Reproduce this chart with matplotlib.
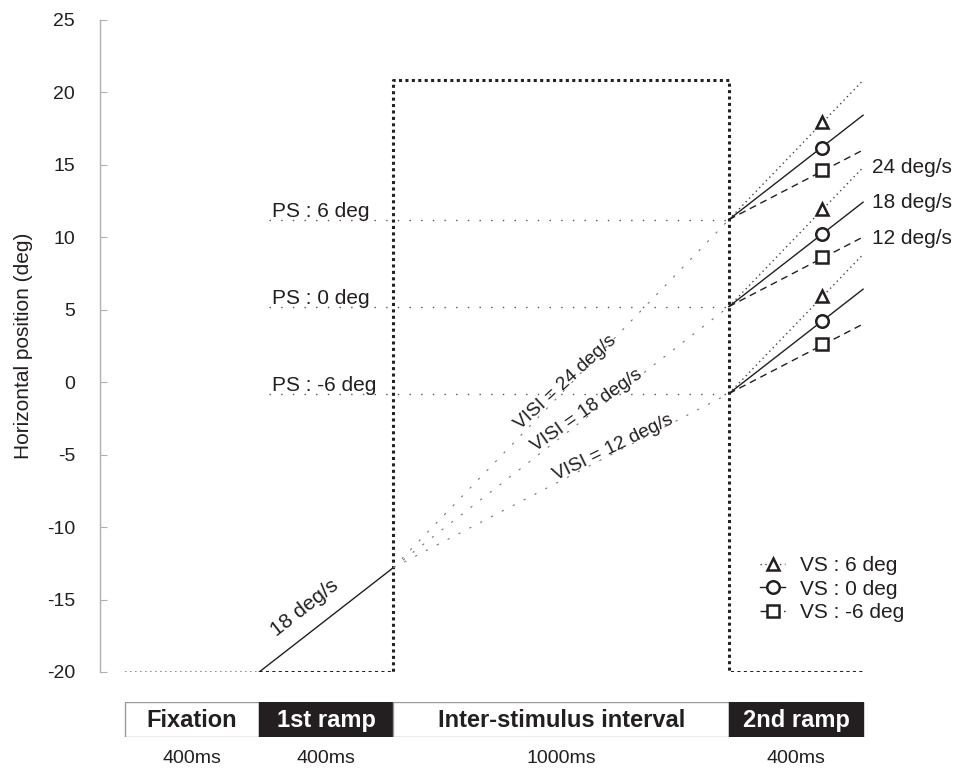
import matplotlib
matplotlib.use("Agg")
import matplotlib.pyplot as plt
from matplotlib.patches import Rectangle
from matplotlib.lines import Line2D

plt.rcParams['font.family'] = ['Liberation Sans', 'DejaVu Sans']
plt.rcParams['axes.unicode_minus'] = False

# ---------------- data ----------------
phases = ['Fixation', '1st ramp', 'Inter-stimulus interval', '2nd ramp']
phase_start = [0, 400, 800, 1800]
phase_dur = [400, 400, 1000, 400]
phase_dark = [False, True, False, True]
dur_labels = ['400ms', '400ms', '1000ms', '400ms']

yticks = [-20, -15, -10, -5, 0, 5, 10, 15, 20, 25]

fix_t = [0, 400]
fix_y = [-20, -20]
ramp1_t = [400, 800]
ramp1_y = [-20, -12.8]

visi_labels = ['VISI = 24 deg/s', 'VISI = 18 deg/s', 'VISI = 12 deg/s']
isi_t = [800, 1800]
isi_start = -12.8
isi_end = [11.2, 5.2, -0.8]

ps_labels = ['PS : 6 deg', 'PS : 0 deg', 'PS : -6 deg']
ps_t = [430, 1800]

target_t = [400, 800, 800, 1800, 1800, 2200]
target_y = [-20, -20, 20.8, 20.8, -20, -20]

ramp2_t = [1800, 2200]
vs_labels = ['VS : 6 deg', 'VS : 0 deg', 'VS : -6 deg']
ramp2_end = [[20.8, 14.8, 8.8],    # VS 6 (24 deg/s)
             [18.4, 12.4, 6.4],    # VS 0 (18 deg/s)
             [16.0, 10.0, 4.0]]    # VS -6 (12 deg/s)
marker_t = 2077
marker_y = [[17.95, 11.95, 5.9],
            [16.15, 10.2, 4.2],
            [14.6, 8.65, 2.65]]
speed_labels = ['24 deg/s', '18 deg/s', '12 deg/s']
speed_label_y = [14.8, 12.4, 9.9]

# ---------------- figure ----------------
W, H = 955, 770
fig = plt.figure(figsize=(W / 100, H / 100), dpi=100)
ax = fig.add_axes([100 / W, 98 / H, 855 / W, 652.5 / H])
ax.set_xlim(-74.5, 2474)
ax.set_ylim(-20, 25)

txt = '#231f20'
for s in ['top', 'right', 'bottom']:
    ax.spines[s].set_visible(False)
ax.spines['left'].set_color('#b0b0b0')
ax.spines['left'].set_linewidth(1.0)
ax.set_xticks([])
ax.set_yticks(yticks)
ax.tick_params(axis='y', direction='in', length=5, color='#b0b0b0',
               labelsize=14, labelcolor=txt, pad=18)
ax.set_ylabel('Horizontal position (deg)', fontsize=15, color=txt)
ax.yaxis.set_label_coords(-67 / 855, 0.5)

# fixation and 1st ramp
ax.plot(fix_t, fix_y, color='#808080', lw=1.2, ls=(0, (1.0, 2.0)))
ax.plot(ramp1_t, ramp1_y, color=txt, lw=1)
ax.text(453, -17.6, '18 deg/s', rotation=38, rotation_mode='anchor',
        ha='left', va='baseline', fontsize=15, color=txt)

# target box (thick dotted)
ax.plot(target_t, target_y, color='#222222', lw=2.2, ls=(0, (1, 1.1)),
        solid_capstyle='butt', dash_capstyle='butt')

# ISI extrapolations
visi_text_pos = [(1313, 0.0, 42.5), (1376, -1.95, 35.0), (1455, -4.5, 26.0)]
for end, lab, (tx, ty, rot) in zip(isi_end, visi_labels, visi_text_pos):
    ax.plot(isi_t, [isi_start, end], color='#777777', lw=0.8, ls=(0, (2, 9)))
    ax.text(tx, ty, lab, rotation=rot, rotation_mode='anchor', ha='center',
            va='center', fontsize=13.8, color=txt)

# PS lines
for end, lab in zip(isi_end, ps_labels):
    ax.plot(ps_t, [end, end], color='#555555', lw=1, ls=(0, (1, 7.4)))
    ax.text(437, end + 0.15, lab, ha='left', va='baseline', fontsize=15, color=txt)

# 2nd ramp
styles = [dict(ls=(0, (1, 2.5)), lw=1, color='#444444'),
          dict(ls='-', lw=1, color=txt),
          dict(ls=(0, (5, 3.5)), lw=1, color=txt)]
markers = ['^', 'o', 's']
for i in range(3):
    for j in range(3):
        ax.plot(ramp2_t, [isi_end[j], ramp2_end[i][j]], **styles[i])
        ax.plot([marker_t], [marker_y[i][j]], marker=markers[i], ms=9,
                mfc='white', mec=txt, mew=1.8, ls='none')

for lab, y in zip(speed_labels, speed_label_y):
    ax.text(2227, y, lab, ha='left', va='center', fontsize=15, color=txt)

# legend
handles = [Line2D([], [], marker=markers[i], ms=9, mfc='white', mec=txt, mew=1.8,
                  **styles[i]) for i in range(3)]
leg = ax.legend(handles, vs_labels, loc='upper left', frameon=False,
                bbox_to_anchor=(760 / W, 1 - 556 / H), bbox_transform=fig.transFigure,
                fontsize=15, handlelength=1.2, handletextpad=0.7,
                labelspacing=0.22, borderpad=0, borderaxespad=0)
for t in leg.get_texts():
    t.set_color(txt)

# timeline
tl = fig.add_axes([100 / W, 33 / H, 855 / W, 35 / H], sharex=ax)
tl.set_ylim(0, 1)
tl.axis('off')
for name, st, d, dark, dl in zip(phases, phase_start, phase_dur, phase_dark, dur_labels):
    tl.add_patch(Rectangle((st, 0), d, 1, facecolor=txt if dark else 'white',
                           edgecolor=txt if dark else '#999999', lw=1))
    tl.text(st + d / 2, 0.47, name, ha='center', va='center', fontsize=17,
            fontweight='bold', color='white' if dark else txt)
    tl.text(st + d / 2, -0.62, dl, ha='center', va='center', fontsize=14, color=txt)

fig.savefig('out.png', dpi=100)
